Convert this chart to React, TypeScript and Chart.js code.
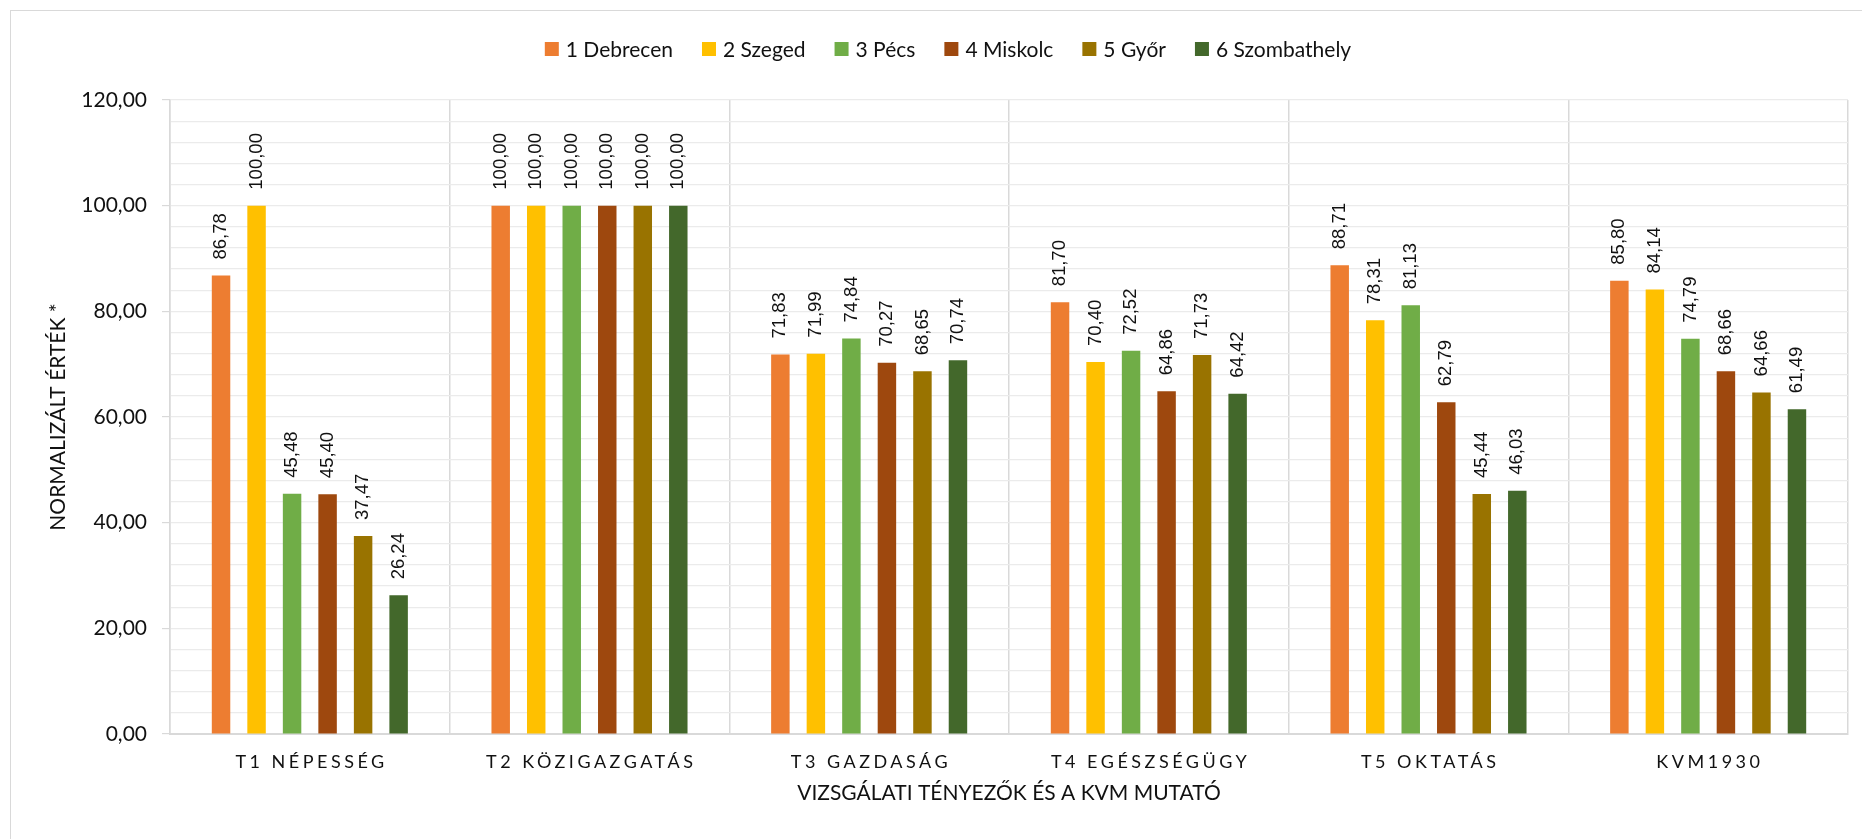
import React, { useEffect, useRef } from 'react';
import { Chart, registerables } from 'chart.js';

Chart.register(...registerables);

const categories = ['T1 NÉPESSÉG', 'T2 KÖZIGAZGATÁS', 'T3 GAZDASÁG', 'T4 EGÉSZSÉGÜGY', 'T5 OKTATÁS', 'KVM1930'];
const seriesNames = ['1 Debrecen', '2 Szeged', '3 Pécs', '4 Miskolc', '5 Győr', '6 Szombathely'];
const debrecen = [86.78, 100.0, 71.83, 81.7, 88.71, 85.8];
const szeged = [100.0, 100.0, 71.99, 70.4, 78.31, 84.14];
const pecs = [45.48, 100.0, 74.84, 72.52, 81.13, 74.79];
const miskolc = [45.4, 100.0, 70.27, 64.86, 62.79, 68.66];
const gyor = [37.47, 100.0, 68.65, 71.73, 45.44, 64.66];
const szombathely = [26.24, 100.0, 70.74, 64.42, 46.03, 61.49];
const seriesValues = [debrecen, szeged, pecs, miskolc, gyor, szombathely];
const seriesColors = ['#ED7D31', '#FFC000', '#70AD47', '#9E480E', '#997300', '#43682B'];
const yMin = 0;
const yMax = 120;
const yGridStep = 4;
const yLabelStep = 20;
const xTitle = 'VIZSGÁLATI TÉNYEZŐK ÉS A KVM MUTATÓ';
const yTitle = 'NORMALIZÁLT ÉRTÉK *';

const fmt = (v: number) => v.toFixed(2).replace('.', ',');
const TEXT = '#111111';
const FONT = 'Lato';

const dataLabelsPlugin = {
  id: 'dataLabelsRot',
  afterDatasetsDraw(chart: any) {
    const ctx = chart.ctx;
    chart.data.datasets.forEach((ds: any, i: number) => {
      const meta = chart.getDatasetMeta(i);
      meta.data.forEach((bar: any, j: number) => {
        const { x, y } = bar.getProps(['x', 'y'], true);
        ctx.save();
        ctx.translate(x, y - 16);
        ctx.rotate(-Math.PI / 2);
        ctx.font = '18.5px "Liberation Sans", Arial, sans-serif';
        ctx.fillStyle = TEXT;
        ctx.textAlign = 'left';
        ctx.textBaseline = 'middle';
        ctx.fillText(fmt(ds.data[j]), 0, 0);
        ctx.restore();
      });
    });
  },
};

const xLabelsPlugin = {
  id: 'xLabelsSpaced',
  afterDraw(chart: any) {
    const ctx = chart.ctx;
    const xs = chart.scales.x;
    const spacing = 3.5;
    ctx.save();
    ctx.font = `18px ${FONT}`;
    (ctx as any).letterSpacing = `${spacing}px`;
    ctx.fillStyle = TEXT;
    ctx.textAlign = 'center';
    ctx.textBaseline = 'alphabetic';
    const baseY = xs.top + 34;
    (chart.data.labels as string[]).forEach((lab, i) => {
      const x = xs.getPixelForValue(i);
      ctx.fillText(lab, x + spacing / 2, baseY);
    });
    ctx.restore();
  },
};

const legendPlugin = {
  id: 'customLegend',
  afterDraw(chart: any) {
    const ctx = chart.ctx;
    ctx.save();
    ctx.font = `21px ${FONT}`;
    const box = 14;
    const gapText = 7;
    const gapItem = 29;
    const items = chart.data.datasets.map((ds: any) => ({
      text: ds.label as string,
      color: ds.backgroundColor as string,
      w: ctx.measureText(ds.label).width,
    }));
    const total = items.reduce((s: number, it: any) => s + box + gapText + it.w, 0) + gapItem * (items.length - 1);
    const cx = 937;
    const cy = 38;
    let x = cx - total / 2;
    ctx.textAlign = 'left';
    ctx.textBaseline = 'alphabetic';
    items.forEach((it: any) => {
      ctx.fillStyle = it.color;
      ctx.fillRect(x, cy - box / 2, box, box);
      ctx.fillStyle = TEXT;
      ctx.fillText(it.text, x + box + gapText, cy + 7.5);
      x += box + gapText + it.w + gapItem;
    });
    ctx.restore();
  },
};

export default function App() {
  const ref = useRef<HTMLCanvasElement | null>(null);
  useEffect(() => {
    if (!ref.current) return;
    const chart = new Chart(ref.current, {
      type: 'bar',
      data: {
        labels: categories,
        datasets: seriesNames.map((name, i) => ({
          label: name,
          data: seriesValues[i],
          backgroundColor: seriesColors[i],
          borderWidth: 0,
          categoryPercentage: 0.762,
          barPercentage: 0.52,
        })),
      },
      options: {
        animation: false,
        responsive: false,
        devicePixelRatio: 1,
        layout: { padding: { top: 89, right: 14, bottom: 0, left: 0 } },
        plugins: { legend: { display: false }, tooltip: { enabled: false } },
        scales: {
          x: {
            grid: { color: '#d9d9d9', lineWidth: 1.5, drawTicks: false, offset: true },
            border: { color: '#d9d9d9', width: 2 },
            ticks: { display: false },
            title: {
              display: true,
              text: xTitle,
              color: TEXT,
              font: { family: FONT, size: 21 },
              padding: { top: 0, bottom: 33 },
            },
            afterFit: (s: any) => {
              s.height = 105;
            },
          },
          y: {
            min: yMin,
            max: yMax,
            ticks: {
              stepSize: yGridStep,
              autoSkip: false,
              padding: 15,
              color: TEXT,
              font: { family: FONT, size: 21 },
              callback: (v: any) => (Number(v) % yLabelStep === 0 ? fmt(Number(v)) : ''),
            },
            grid: {
              color: '#ebebeb',
              lineWidth: 1.2,
              tickLength: 8,
              tickColor: (c: any) => (c.tick && c.tick.value % yLabelStep === 0 ? '#d9d9d9' : 'rgba(0,0,0,0)'),
            },
            border: { color: '#d9d9d9', width: 1.5 },
            title: {
              display: true,
              text: yTitle,
              color: TEXT,
              font: { family: FONT, size: 21 },
              padding: { top: 35, bottom: 0 },
            },
            afterFit: (s: any) => {
              s.width = 159;
            },
          },
        },
      },
      plugins: [dataLabelsPlugin, xLabelsPlugin, legendPlugin],
    });
    return () => chart.destroy();
  }, []);

  return (
    <div
      style={{
        position: 'absolute',
        left: 10,
        top: 10,
        width: 1852,
        height: 829,
        boxSizing: 'border-box',
        borderLeft: '1px solid #d9d9d9',
        borderTop: '1px solid #d9d9d9',
        background: '#fff',
        overflow: 'hidden',
      }}
    >
      <canvas ref={ref} width={1851} height={828} style={{ display: 'block', width: 1851, height: 828 }} />
    </div>
  );
}
